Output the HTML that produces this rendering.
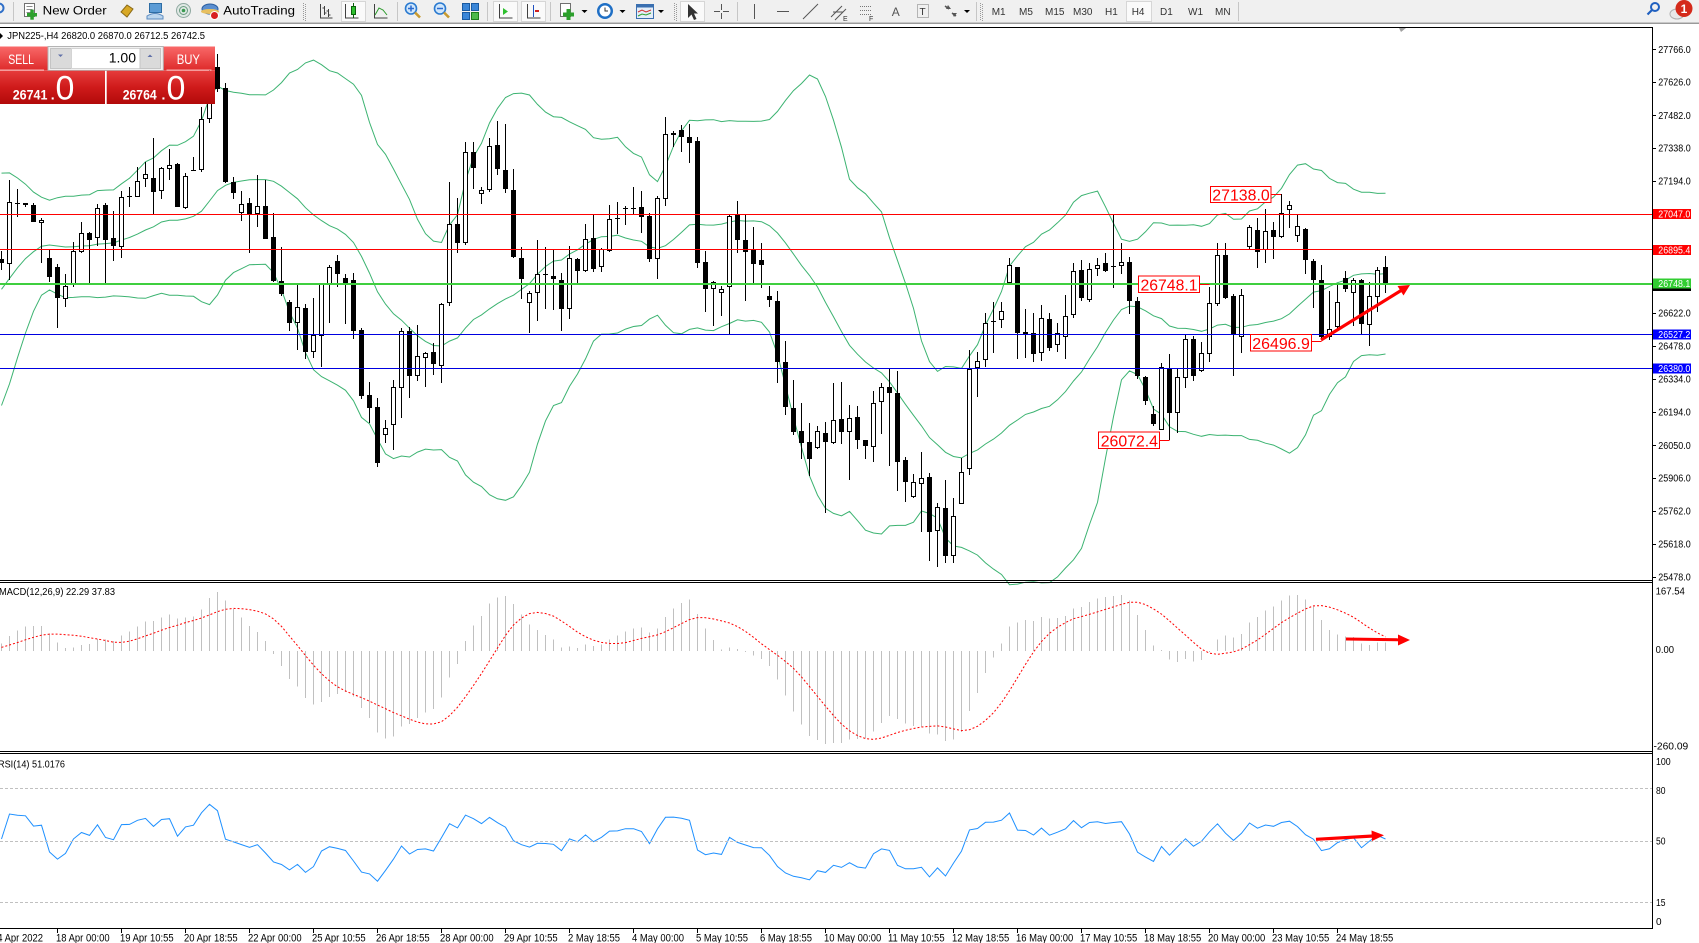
<!DOCTYPE html>
<html><head><meta charset="utf-8">
<style>
html,body{margin:0;padding:0;background:#fff;width:1699px;height:943px;overflow:hidden}
svg{display:block;font-family:"Liberation Sans",sans-serif}
</style></head><body>
<svg id="s" width="1699" height="943" viewBox="0 0 1699 943" xmlns="http://www.w3.org/2000/svg">
<defs>
<linearGradient id="gTop" x1="0" y1="0" x2="0" y2="1"><stop offset="0" stop-color="#f96868"/><stop offset="1" stop-color="#de2a2a"/></linearGradient>
<linearGradient id="gBot" x1="0" y1="0" x2="0" y2="1"><stop offset="0" stop-color="#e63c3c"/><stop offset="0.5" stop-color="#cf1a1a"/><stop offset="1" stop-color="#b20a0a"/></linearGradient>
</defs>
<rect x="0" y="0" width="1699" height="943" fill="#fff"/>

<g id="bb" fill="none" stroke="#3cb371" stroke-width="1"></g>
<g id="cndl" fill="#000" shape-rendering="crispEdges"></g>
<g id="macd"></g>
<g id="rsi"></g>

<g stroke="#c0c0c0" stroke-width="1" stroke-dasharray="3,2" shape-rendering="crispEdges">
<line x1="0" y1="788.5" x2="1652" y2="788.5"/>
<line x1="0" y1="841.5" x2="1652" y2="841.5"/>
<line x1="0" y1="902.5" x2="1652" y2="902.5"/>
</g>

<g shape-rendering="crispEdges">
<rect x="0" y="214" width="1652" height="1" fill="#ff0000"/>
<rect x="0" y="249" width="1652" height="1" fill="#ff0000"/>
<rect x="0" y="283" width="1652" height="2" fill="#3fcf3f"/>
<rect x="0" y="334" width="1652" height="1" fill="#0000e0"/>
<rect x="0" y="368" width="1652" height="1" fill="#0000e0"/>
</g>

<g font-size="16" fill="#ff0000">
<rect x="1271" y="194" width="10" height="1" fill="#ff0000"/>
<rect x="1210.5" y="186.5" width="60.5" height="16" fill="#fff" stroke="#ff0000"/>
<text x="1212.3" y="200.6" textLength="57.4" lengthAdjust="spacingAndGlyphs">27138.0</text>
<rect x="1199.5" y="284" width="10" height="1" fill="#ff0000"/>
<rect x="1138.5" y="276" width="61" height="16.5" fill="#fff" stroke="#ff0000"/>
<text x="1140.5" y="290.6" textLength="57" lengthAdjust="spacingAndGlyphs">26748.1</text>
<rect x="1311.5" y="341" width="10" height="1" fill="#ff0000"/>
<rect x="1250.5" y="334.5" width="61" height="16.5" fill="#fff" stroke="#ff0000"/>
<text x="1252.3" y="349" textLength="57.5" lengthAdjust="spacingAndGlyphs">26496.9</text>
<rect x="1159.5" y="440" width="10" height="1" fill="#ff0000"/>
<rect x="1098.5" y="432" width="61" height="16.5" fill="#fff" stroke="#ff0000"/>
<text x="1100.7" y="446.7" textLength="57.3" lengthAdjust="spacingAndGlyphs">26072.4</text>
</g>

<g fill="#ff0000" stroke="none">
<line x1="1321" y1="340" x2="1401" y2="290.5" stroke="#ff0000" stroke-width="3.2"/>
<polygon points="1410,285 1403.5,295.5 1397.5,286"/>
<line x1="1346" y1="639" x2="1399" y2="639.8" stroke="#ff0000" stroke-width="3"/>
<polygon points="1410,640 1398,634.5 1398,645.5"/>
<line x1="1316" y1="839.3" x2="1373" y2="836" stroke="#ff0000" stroke-width="3.2"/>
<polygon points="1384,835.2 1371.5,830.5 1372,841"/>
</g>

<g fill="#000" shape-rendering="crispEdges">
<rect x="0" y="27" width="1653" height="1"/>
<rect x="1652" y="27" width="1" height="902"/>
<rect x="0" y="580" width="1653" height="1"/>
<rect x="0" y="582" width="1653" height="1"/>
<rect x="0" y="751" width="1653" height="1"/>
<rect x="0" y="753" width="1653" height="1"/>
<rect x="0" y="928" width="1653" height="1"/>
</g>
<polygon points="1399,28 1406,28 1401,32" fill="#a0a0a0"/>

<g fill="#000" shape-rendering="crispEdges">
<rect x="1652" y="49" width="4" height="1"/><rect x="1652" y="82" width="4" height="1"/><rect x="1652" y="115" width="4" height="1"/><rect x="1652" y="148" width="4" height="1"/><rect x="1652" y="181" width="4" height="1"/><rect x="1652" y="313" width="4" height="1"/><rect x="1652" y="346" width="4" height="1"/><rect x="1652" y="379" width="4" height="1"/><rect x="1652" y="412" width="4" height="1"/><rect x="1652" y="445" width="4" height="1"/><rect x="1652" y="478" width="4" height="1"/><rect x="1652" y="511" width="4" height="1"/><rect x="1652" y="544" width="4" height="1"/><rect x="1652" y="577" width="4" height="1"/>
</g>
<g font-size="10" fill="#000">
<text x="1658.3" y="52.8" textLength="32.4" lengthAdjust="spacingAndGlyphs">27766.0</text>
<text x="1658.3" y="85.5" textLength="32.4" lengthAdjust="spacingAndGlyphs">27626.0</text>
<text x="1658.3" y="118.8" textLength="32.4" lengthAdjust="spacingAndGlyphs">27482.0</text>
<text x="1658.3" y="151.5" textLength="32.4" lengthAdjust="spacingAndGlyphs">27338.0</text>
<text x="1658.3" y="184.5" textLength="32.4" lengthAdjust="spacingAndGlyphs">27194.0</text>
<text x="1658.3" y="316.5" textLength="32.4" lengthAdjust="spacingAndGlyphs">26622.0</text>
<text x="1658.3" y="349.5" textLength="32.4" lengthAdjust="spacingAndGlyphs">26478.0</text>
<text x="1658.3" y="382.5" textLength="32.4" lengthAdjust="spacingAndGlyphs">26334.0</text>
<text x="1658.3" y="415.5" textLength="32.4" lengthAdjust="spacingAndGlyphs">26194.0</text>
<text x="1658.3" y="449" textLength="32.4" lengthAdjust="spacingAndGlyphs">26050.0</text>
<text x="1658.3" y="481.5" textLength="32.4" lengthAdjust="spacingAndGlyphs">25906.0</text>
<text x="1658.3" y="514.5" textLength="32.4" lengthAdjust="spacingAndGlyphs">25762.0</text>
<text x="1658.3" y="547.5" textLength="32.4" lengthAdjust="spacingAndGlyphs">25618.0</text>
<text x="1658.3" y="580.5" textLength="32.4" lengthAdjust="spacingAndGlyphs">25478.0</text>
</g>
<g font-size="10" fill="#fff">
<rect x="1653" y="209" width="38" height="10" fill="#ff0000"/>
<text x="1658.3" y="217.6" textLength="32" lengthAdjust="spacingAndGlyphs">27047.0</text>
<rect x="1653" y="245" width="38" height="10" fill="#ff0000"/>
<text x="1658.3" y="253.6" textLength="32" lengthAdjust="spacingAndGlyphs">26895.4</text>
<rect x="1653" y="288" width="38" height="3" fill="#000"/>
<rect x="1653" y="278.5" width="38" height="10" fill="#32cd32"/>
<text x="1658.3" y="287.1" textLength="32" lengthAdjust="spacingAndGlyphs">26748.1</text>
<rect x="1653" y="329.5" width="38" height="10" fill="#0000ff"/>
<text x="1658.3" y="338.1" textLength="32" lengthAdjust="spacingAndGlyphs">26527.2</text>
<rect x="1653" y="363.5" width="38" height="10" fill="#0000ff"/>
<text x="1658.3" y="372.1" textLength="32" lengthAdjust="spacingAndGlyphs">26380.0</text>
</g>

<g font-size="10" fill="#000">
<text x="1655.6" y="594.5" textLength="29.3" lengthAdjust="spacingAndGlyphs">167.54</text>
<text x="1655.6" y="653" textLength="18.4" lengthAdjust="spacingAndGlyphs">0.00</text>
<text x="1653.5" y="749.5" textLength="34.7" lengthAdjust="spacingAndGlyphs">-260.09</text>
<text x="1656" y="765.2" textLength="14.7" lengthAdjust="spacingAndGlyphs">100</text>
<text x="1656" y="794.2" textLength="9.5" lengthAdjust="spacingAndGlyphs">80</text>
<text x="1656" y="844.5" textLength="9.5" lengthAdjust="spacingAndGlyphs">50</text>
<text x="1656" y="906.2" textLength="9.5" lengthAdjust="spacingAndGlyphs">15</text>
<text x="1656" y="924.8">0</text>
<text x="-1" y="595.2" textLength="116" lengthAdjust="spacingAndGlyphs">MACD(12,26,9) 22.29 37.83</text>
<text x="-2" y="767.5" textLength="67" lengthAdjust="spacingAndGlyphs">RSI(14) 51.0176</text>
<polygon points="0,33 3,36 0,39"/>
<text x="7.3" y="39.2" textLength="197.7" lengthAdjust="spacingAndGlyphs">JPN225-,H4  26820.0 26870.0 26712.5 26742.5</text>
</g>

<g id="taxis" font-size="11" fill="#000"></g>

<g>
<rect x="0" y="46.5" width="47.5" height="24" fill="url(#gTop)"/>
<rect x="163.3" y="46.5" width="51.7" height="24" fill="url(#gTop)"/>
<rect x="48" y="46.5" width="115.3" height="24" fill="#f0f0f0" stroke="#b4b4b4"/>
<rect x="50.5" y="48.5" width="21" height="20" fill="#dadada" stroke="#c4c4c4"/>
<rect x="71.5" y="48.5" width="68.5" height="20" fill="#fff" stroke="#d4d4d4"/>
<rect x="140" y="48.5" width="20.5" height="20" fill="#dadada" stroke="#c4c4c4"/>
<polygon points="58,54.5 63,54.5 60.5,57" fill="#6070a8"/>
<polygon points="147.5,57 152.5,57 150,54.5" fill="#6070a8"/>
<text x="136" y="62.7" font-size="14" fill="#000" text-anchor="end">1.00</text>
<text x="8.3" y="64" font-size="14" fill="#fff" textLength="25.7" lengthAdjust="spacingAndGlyphs">SELL</text>
<text x="176.7" y="64" font-size="14" fill="#fff" textLength="23.3" lengthAdjust="spacingAndGlyphs">BUY</text>
<rect x="0" y="69.5" width="44" height="1" fill="#f7b0b0"/>
<rect x="166.5" y="69.5" width="45" height="1" fill="#f7b0b0"/>
<rect x="0" y="70.7" width="105" height="33.3" fill="url(#gBot)"/>
<rect x="106.7" y="70.7" width="108.3" height="33.3" fill="url(#gBot)"/>
<text x="12.7" y="99.3" font-size="14" font-weight="bold" fill="#fff" textLength="34.7" lengthAdjust="spacingAndGlyphs">26741</text>
<text x="50.8" y="99.3" font-size="14" font-weight="bold" fill="#fff">.</text>
<text x="55.5" y="99.3" font-size="34" fill="#fff">0</text>
<text x="122.7" y="99.3" font-size="14" font-weight="bold" fill="#fff" textLength="34" lengthAdjust="spacingAndGlyphs">26764</text>
<text x="161.5" y="99.3" font-size="14" font-weight="bold" fill="#fff">.</text>
<text x="166.5" y="99.3" font-size="34" fill="#fff">0</text>
</g>

<g id="tb">
<rect x="0" y="0" width="1699" height="23" fill="#f0f0f0"/>
<rect x="0" y="22" width="1699" height="1" fill="#c8c8c8"/>
<rect x="0" y="23" width="1699" height="1" fill="#9a9a9a"/>
<g fill="#c6c6c6"><rect x="13" y="2" width="1" height="19"/><rect x="397" y="2" width="1" height="19"/><rect x="487" y="2" width="1" height="19"/><rect x="550" y="2" width="1" height="19"/><rect x="737" y="2" width="1" height="19"/><rect x="976" y="2" width="1" height="19"/><rect x="1238" y="2" width="1" height="19"/></g>
<g stroke="#9a9a9a" stroke-dasharray="1,1"><line x1="303.5" y1="3" x2="303.5" y2="20"/><line x1="305.5" y1="4" x2="305.5" y2="21"/><line x1="674.5" y1="3" x2="674.5" y2="20"/><line x1="676.5" y1="4" x2="676.5" y2="21"/><line x1="980.5" y1="3" x2="980.5" y2="20"/><line x1="982.5" y1="4" x2="982.5" y2="21"/></g>
<g fill="#fafafa" stroke="#d6d6d6"><rect x="341.5" y="1.5" width="24" height="20"/><rect x="493.5" y="1.5" width="24" height="20"/><rect x="521.5" y="1.5" width="24" height="20"/><rect x="680.5" y="1.5" width="24" height="20"/><rect x="1126.5" y="1.5" width="25" height="20"/></g>
<circle cx="-1" cy="8" r="4.5" fill="none" stroke="#2f6fc8" stroke-width="2"/>
<rect x="24.5" y="3.5" width="10" height="13" fill="#fff" stroke="#707070"/>
<path d="M26.5 6.5h6M26.5 9.5h6M26.5 12.5h4" stroke="#8a8a8a"/>
<rect x="27" y="13" width="10" height="3.5" fill="#2ca02c"/><rect x="30.3" y="9.7" width="3.5" height="10" fill="#2ca02c"/>
<text x="42.7" y="14.5" font-size="12" fill="#000" textLength="64" lengthAdjust="spacingAndGlyphs">New Order</text>
<polygon points="121,12 127,5 133,9 127,17" fill="#d8a825" stroke="#8a6a18"/>
<rect x="149.5" y="3.5" width="12" height="9" fill="#5b9bd5" stroke="#2e6da4"/>
<path d="M147 16 q8 -5 16 0 v3 h-16z" fill="#bcd6ee" stroke="#5a8ac0"/>
<circle cx="183.5" cy="10.5" r="7" fill="#dfe8e4" stroke="#8fa8a0"/><circle cx="183.5" cy="10.5" r="4" fill="none" stroke="#6a9a80"/><circle cx="183.5" cy="10.5" r="1.8" fill="#3a9a50"/>
<ellipse cx="210" cy="9" rx="8" ry="5" fill="#5b8fd0" stroke="#2c5fa0"/><ellipse cx="210" cy="11.5" rx="9" ry="2.5" fill="#e8c060"/>
<circle cx="214.5" cy="15.5" r="4" fill="#d82020" stroke="#fff"/>
<text x="223.3" y="14.5" font-size="12" fill="#000" textLength="71.7" lengthAdjust="spacingAndGlyphs">AutoTrading</text>
<path d="M320.5 4v14h12M324.5 6v9M322.5 8h2M324.5 13h2M328.5 9v8M326.5 11h2M328.5 15h2" stroke="#404040" fill="none"/>
<path d="M345.5 4v14h13" stroke="#404040" fill="none"/><rect x="351.5" y="6.5" width="4" height="8" fill="#2ec02e" stroke="#0a600a"/><path d="M353.5 3v3M353.5 15v3" stroke="#0a600a"/>
<path d="M374.5 4v14h13" stroke="#404040" fill="none"/><path d="M375 15 l4 -7 l4 2 l4 5" stroke="#2a9a2a" fill="none"/>
<circle cx="411" cy="8.5" r="5.5" fill="#cfe6fb" stroke="#2a7ad0" stroke-width="1.6"/><path d="M415 12.5 l5 5" stroke="#c89a30" stroke-width="2.6"/><path d="M408 8.5h6M411 5.5v6" stroke="#2a6ad0" stroke-width="1.5"/>
<circle cx="440" cy="8.5" r="5.5" fill="#cfe6fb" stroke="#2a7ad0" stroke-width="1.6"/><path d="M444 12.5 l5 5" stroke="#c89a30" stroke-width="2.6"/><path d="M437 8.5h6" stroke="#2a6ad0" stroke-width="1.5"/>
<rect x="462.5" y="3.5" width="7" height="7" fill="#3a86d8" stroke="#1a5aa0"/><rect x="471.5" y="3.5" width="7" height="7" fill="#3a86d8" stroke="#1a5aa0"/><rect x="462.5" y="12.5" width="7" height="7" fill="#3a86d8" stroke="#1a5aa0"/><rect x="471.5" y="12.5" width="7" height="7" fill="#4ab84a" stroke="#1a7a1a"/>
<path d="M499.5 4v14h13" stroke="#404040" fill="none"/><polygon points="503,8 508,11.5 503,15" fill="#2ec02e"/>
<path d="M527.5 4v14h13" stroke="#404040" fill="none"/><path d="M533.5 5v12" stroke="#2050c0"/><path d="M535 11h4" stroke="#d02020" stroke-width="2"/>
<rect x="560.5" y="3.5" width="10" height="13" fill="#fff" stroke="#707070"/><rect x="563" y="12.5" width="11" height="4" fill="#2ca02c"/><rect x="566.5" y="9" width="4" height="11" fill="#2ca02c"/>
<polygon points="581.5,10 587.5,10 584.5,13" fill="#000"/>
<circle cx="605" cy="11" r="8" fill="#1f6fc5"/><circle cx="605" cy="11" r="5.5" fill="#fff"/><path d="M605 7.5v3.5h3" stroke="#333" fill="none"/>
<polygon points="619.5,10 625.5,10 622.5,13" fill="#000"/>
<rect x="636.5" y="4.5" width="17" height="14" fill="#e4eef8" stroke="#3a6fb0"/><rect x="636.5" y="4.5" width="17" height="3" fill="#3a6fb0"/><path d="M638 12l4 -2 4 2 5 -2" stroke="#d03030" fill="none"/><path d="M638 16l4 -2 4 1 5 -2" stroke="#30a030" fill="none"/>
<polygon points="658,10 664,10 661,13" fill="#000"/>
<polygon points="688,4 688,18 691.5,14.5 694,20 696.5,19 694,13.5 698,13.5" fill="#333"/>
<path d="M721.5 4v6M721.5 13v6M714 11.5h6M723 11.5h6" stroke="#555"/>
<path d="M754.5 4v15" stroke="#555"/>
<path d="M777 11.5h12" stroke="#555"/>
<path d="M803 19l15 -15" stroke="#555"/>
<path d="M831 17l11 -11M835 20l11 -11M833 12h10" stroke="#555"/><text x="843" y="21" font-size="7" fill="#333">E</text>
<path d="M860 6.5h12M860 10.5h12M860 14.5h12" stroke="#777" stroke-dasharray="1,1"/><text x="869" y="21" font-size="7" fill="#333">F</text>
<text x="891.7" y="16" font-size="12" fill="#555">A</text>
<rect x="917.5" y="4.5" width="11" height="13" fill="none" stroke="#777" stroke-dasharray="1,1"/><text x="919.5" y="15" font-size="10" fill="#333">T</text>
<path d="M945 6l4 3M952 13l4 3" stroke="#555" stroke-width="1.5"/><polygon points="948,5 951,9 946,9" fill="#555"/><polygon points="954,17 957,13 952,13" fill="#555"/>
<polygon points="964,10 970,10 967,13" fill="#000"/>
<g font-size="10" fill="#333">
<text x="991.7" y="15">M1</text><text x="1019" y="15">M5</text><text x="1045" y="15">M15</text><text x="1073" y="15">M30</text><text x="1105" y="15">H1</text><text x="1131.7" y="15">H4</text><text x="1160" y="15">D1</text><text x="1188" y="15">W1</text><text x="1215" y="15">MN</text>
</g>
<circle cx="1655" cy="7" r="4" fill="none" stroke="#2060c0" stroke-width="2"/><path d="M1652 10l-4.5 4.5" stroke="#2060c0" stroke-width="2.2"/>
<ellipse cx="1677" cy="14" rx="7" ry="5" fill="#e8e8e8" stroke="#b0b0b0"/>
<circle cx="1684" cy="8.5" r="8.5" fill="#d42a1a"/>
<text x="1684" y="13" font-size="12" font-weight="bold" fill="#fff" text-anchor="middle">1</text>
</g>
</svg>
<script>
(function(){
var A=[[657,632,690,670],[673,420,720,487],[490,447,530,493],[490,488,502,496],[495,490,546,545],[550,535,670,540],[655,630,725,710],[682,672,865,775],[777,703,800,737],[733,605,742,633],[637,547,640,580],[580,575,728,600],[595,493,617,505],[495,490,728,600],[595,513,663,617],[620,453,653,472],[472,440,500,469],[470,380,470,422],[418,365,440,403],[415,295,525,455],[452,380,477,385],[388,328,420,376],[372,370,500,500],[503,398,508,408],[391,350,392,389],[390,200,395,238],[238,85,250,100],[80,42,155,148],[145,130,430,425],[427,410,477,458],[520,453,542,492],[490,475,640,525],[522,405,560,498],[498,420,596,596],[592,520,725,722],[723,622,768,763],[786,780,872,850],[850,730,930,802],[805,793,957,937],[937,773,955,886],[888,728,980,730],[733,675,850,682],[663,645,740,703],[715,703,853,728],[720,700,898,872],[871,865,1077,1067],[1065,1025,1150,1103],[1102,1075,1280,1268],[1185,1140,1210,1165],[1155,1020,1230,1042],[1045,865,1133,872],[873,860,1075,1007],[1008,855,1022,948],[953,935,1040,940],[937,910,1005,973],[978,790,1030,793],[790,425,797,553],[552,475,640,610],[610,305,615,335]];
var B=[[155,125,268,205],[282,260,313,271],[271,115,277,138],[135,63,225,208],[210,72,278,268],[270,207,474,472],[475,440,597,538],[610,573,700,580],[580,420,662,523],[523,440,627,525],[528,451,630,536],[540,520,692,626],[628,438,656,475],[477,475,555,512],[514,372,515,418],[414,342,516,506],[502,445,516,448],[452,316,456,357],[355,307,403,353],[327,318,375,325],[326,262,345,324],[322,272,398,352],[347,340,487,476],[476,288,536,295],[298,50,318,102],[106,92,140,100],[90,74,155,112],[112,72,190,128],[123,112,503,488],[487,453,635,566],[568,544,678,547],[580,557,648,568],[560,345,705,348],[346,302,458,419],[420,346,602,455],[451,381,548,491],[481,428,563,494],[589,558,620,601],[603,573,848,785],[787,722,945,922],[925,840,1005,995],[994,908,1078,1030],[1027,968,1127,1078],[1045,978,1047,992],[999,965,1238,1027],[1030,850,1033,961],[958,846,1033,995],[997,915,1139,955],[951,918,1047,1019],[1021,1020,1078,1037],[1042,873,1087,910],[907,850,1003,862],[862,806,1099,878],[880,813,1172,1085],[1080,1070,1206,1145],[1190,1122,1193,1147],[1152,1055,1297,1133],[1132,1118,1382,1295]];
var C=[[1037,955,1145,967],[968,885,1133,1114],[1114,940,1133,992],[958,818,958,862],[853,495,870,553],[550,500,637,527],[525,383,545,415],[409,350,503,411],[405,352,428,377],[293,218,298,241],[245,245,523,445],[440,372,518,450],[445,385,530,507],[505,360,528,400],[403,385,498,490],[481,415,500,443],[457,330,523,392],[390,233,400,257],[256,225,348,340],[344,235,350,253],[252,218,272,241],[235,205,262,259],[242,90,310,243],[243,175,268,232],[232,215,386,347],[347,337,583,574],[575,573,660,647],[686,662,722,718],[735,535,735,545],[548,508,765,685],[685,548,745,575],[578,450,610,463],[463,453,588,572],[557,472,562,505],[507,307,530,355],[358,175,362,211],[210,175,342,338],[333,327,572,451],[455,313,505,330],[185,120,195,127],[135,100,250,200],[195,72,233,139],[135,110,223,155],[157,27,160,83],[76,47,128,59],[154,90,172,124],[132,130,267,225],[229,222,368,286],[286,240,466,456],[456,318,465,431],[427,300,432,350],[280,258,320,311],[325,280,422,285],[284,283,450,416],[421,292,482,334],[336,246,380,254],[246,213,323,300]];
var NS="http://www.w3.org/2000/svg";
function mk(tag,at,par){var e=document.createElementNS(NS,tag);for(var k in at)e.setAttribute(k,at[k]);par.appendChild(e);return e;}
var bars=[];
A.forEach(function(r){bars.push(r.map(function(v){return Math.round(40+v/3);}));});
B.forEach(function(r){bars.push(r.map(function(v){return Math.round(100+v/3);}));});
C.forEach(function(r){bars.push(r.map(function(v){return Math.round(185+v/3);}));});
var K=528/2288;
function P(y){return 25478+(577-y)/K;}
function Yp(p){return 577-(p-25478)*K;}
var pre=[200,195,190,200,210,205,195,190,200,210,215,210,205,215,225,240,260,290,330,370,400,420,415,390,360,330,300,280,265,255,250,245,240,250,260,255,245,250,255,258];
var cl=pre.map(P).concat(bars.map(function(b){return P(b[3]);}));
var off=pre.length,n=bars.length;
function X(i){return 1+8*i;}
var gc=document.getElementById('cndl');
for(var i=0;i<n;i++){
  var o=bars[i][0],h=bars[i][1],l=bars[i][2],c=bars[i][3],x=X(i);
  var hh=Math.min(h,o,c),ll=Math.max(l,o,c);
  mk('rect',{x:x,y:hh,width:1,height:Math.max(1,ll-hh)},gc);
  var t=Math.min(o,c),b=Math.max(o,c);
  if(b-t<2){mk('rect',{x:x-2,y:t,width:5,height:1},gc);}
  else if(c<o){mk('rect',{x:x-1.5,y:t+0.5,width:4,height:b-t-1,fill:'#fff',stroke:'#000'},gc);}
  else{mk('rect',{x:x-2,y:t,width:5,height:b-t},gc);}
}
var up=[],md=[],lo=[];
for(var i=0;i<n;i++){
  var k=i+off,m=0,j;for(j=k-19;j<=k;j++)m+=cl[j];m/=20;
  var v=0;for(j=k-19;j<=k;j++)v+=(cl[j]-m)*(cl[j]-m);var sd=Math.sqrt(v/20);
  var xx=X(i)+0.5;
  up.push(xx+','+Yp(m+2*sd).toFixed(1));md.push(xx+','+Yp(m).toFixed(1));lo.push(xx+','+Yp(m-2*sd).toFixed(1));
}
var gb=document.getElementById('bb');
mk('polyline',{points:up.join(' ')},gb);mk('polyline',{points:md.join(' ')},gb);mk('polyline',{points:lo.join(' ')},gb);
var e12=cl[0],e26=cl[0],mac=[],sig=[];
for(var k=0;k<cl.length;k++){if(k>0){e12+=(2/13)*(cl[k]-e12);e26+=(2/27)*(cl[k]-e26);}mac.push(e12-e26);}
for(var k=0;k<cl.length;k++){var a=0,cc=0;for(var j=Math.max(0,k-8);j<=k;j++){a+=mac[j];cc++;}sig.push(a/cc);}
var mx=-1e9,mn=1e9;
for(var i=0;i<n;i++){var k=i+off;mx=Math.max(mx,mac[k],sig[k]);mn=Math.min(mn,mac[k],sig[k]);}
function My(v){return 592+(mx-v)/(mx-mn)*152;}
var y0=My(0);
var gm=document.getElementById('macd');
var gh=mk('g',{stroke:'#c0c0c0','stroke-width':1,'shape-rendering':'crispEdges'},gm);
var sp=[];
for(var i=0;i<n;i++){var k=i+off,xx=X(i)+0.5;
  mk('line',{x1:xx,y1:y0.toFixed(1),x2:xx,y2:My(mac[k]).toFixed(1)},gh);
  sp.push(xx+','+My(sig[k]).toFixed(1));}
mk('polyline',{points:sp.join(' '),fill:'none',stroke:'#ff0000','stroke-width':1,'stroke-dasharray':'2,2'},gm);
var r=[];for(var k=0;k<cl.length;k++)r.push(50);
var ag=0,al=0;
for(var k=1;k<=14;k++){var d=cl[k]-cl[k-1];if(d>0)ag+=d;else al-=d;}
ag/=14;al/=14;r[14]=al==0?100:100-100/(1+ag/al);
for(var k=15;k<cl.length;k++){var d=cl[k]-cl[k-1];ag=(ag*13+Math.max(d,0))/14;al=(al*13+Math.max(-d,0))/14;r[k]=al==0?100:100-100/(1+ag/al);}
var rp=[];
for(var i=0;i<n;i++){var k=i+off;rp.push((X(i)+0.5)+','+(754+(100-r[k])*1.74).toFixed(1));}
mk('polyline',{points:rp.join(' '),fill:'none',stroke:'#1e90ff','stroke-width':1},document.getElementById('rsi'));
var L=["14 Apr 2022","18 Apr 00:00","19 Apr 10:55","20 Apr 18:55","22 Apr 00:00","25 Apr 10:55","26 Apr 18:55","28 Apr 00:00","29 Apr 10:55","2 May 18:55","4 May 00:00","5 May 10:55","6 May 18:55","10 May 00:00","11 May 10:55","12 May 18:55","16 May 00:00","17 May 10:55","18 May 18:55","20 May 00:00","23 May 10:55","24 May 18:55"];
var gt=document.getElementById('taxis');
for(var k=-1;k<=20;k++){var tx=57+64*k;
  if(tx>=0)mk('rect',{x:tx,y:928,width:1,height:5,fill:'#000'},gt);
  var te=mk('text',{transform:'translate('+(tx-1)+',941.6) scale(0.86,1)'},gt);
  te.textContent=L[k+1];}
})();
</script>
</body></html>
